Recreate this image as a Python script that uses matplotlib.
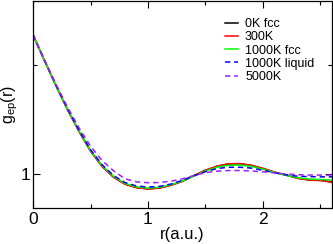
import matplotlib
matplotlib.use("Agg")
import matplotlib.pyplot as plt
from matplotlib.ticker import MultipleLocator, FixedLocator

plt.rcParams['font.family'] = ['Liberation Sans', 'DejaVu Sans']
plt.rcParams['mathtext.fontset'] = 'custom'
plt.rcParams['mathtext.rm'] = 'Liberation Sans'

r = [0.0, 0.1, 0.2, 0.3, 0.4, 0.5, 0.6, 0.7, 0.8, 0.9, 1.0, 1.1, 1.2, 1.3,
     1.4, 1.5, 1.6, 1.7, 1.8, 1.9, 2.0, 2.1, 2.2, 2.3, 2.4, 2.5, 2.6]

g_0K_fcc = [1.638, 1.520, 1.405, 1.296, 1.196, 1.106, 1.036, 0.986, 0.954, 0.938,
            0.932, 0.936, 0.949, 0.967, 0.992, 1.017, 1.035, 1.046, 1.047, 1.039,
            1.025, 1.008, 0.995, 0.981, 0.973, 0.971, 0.964]
g_300K = [1.638, 1.520, 1.405, 1.295, 1.195, 1.105, 1.035, 0.985, 0.953, 0.937,
          0.931, 0.935, 0.948, 0.966, 0.993, 1.018, 1.036, 1.047, 1.048, 1.040,
          1.026, 1.009, 0.995, 0.980, 0.972, 0.970, 0.962]
g_1000K_fcc = [1.638, 1.520, 1.406, 1.297, 1.198, 1.108, 1.039, 0.989, 0.957, 0.941,
               0.935, 0.939, 0.951, 0.968, 0.991, 1.014, 1.031, 1.040, 1.041, 1.035,
               1.022, 1.007, 0.994, 0.983, 0.977, 0.975, 0.972]
g_1000K_liquid = [1.640, 1.522, 1.408, 1.300, 1.201, 1.112, 1.043, 0.993, 0.961, 0.945,
                  0.940, 0.943, 0.954, 0.971, 0.992, 1.011, 1.025, 1.031, 1.031, 1.027,
                  1.017, 1.006, 0.996, 0.990, 0.988, 0.987, 0.987]
g_5000K = [1.638, 1.523, 1.412, 1.307, 1.212, 1.128, 1.062, 1.015, 0.978, 0.964,
           0.960, 0.961, 0.967, 0.978, 0.993, 1.006, 1.013, 1.016, 1.016, 1.014,
           1.010, 1.005, 1.000, 0.997, 0.995, 0.995, 0.995]

labels = ["0K fcc", "300K", "1000K fcc", "1000K liquid", "5000K"]

fig = plt.figure(figsize=(3.33, 2.44), dpi=100)
ax = fig.add_axes([33/333, 36/244, 299/333, 207/244])

lw = 1.1
ax.plot(r, g_0K_fcc, color="black", lw=lw, label=labels[0])
ax.plot(r, g_300K, color="red", lw=lw, label=labels[1])
ax.plot(r, g_1000K_fcc, color="#00ff00", lw=lw, label=labels[2])
ax.plot(r, g_1000K_liquid, color="blue", lw=lw, ls=(0, (3.5, 2.5)), label=labels[3])
ax.plot(r, g_5000K, color="#a020f0", lw=lw, ls=(0, (3.5, 2.5)), label=labels[4])

ax.set_xlim(0, 2.6)
ax.set_ylim(0.844, 1.794)

ax.xaxis.set_major_locator(MultipleLocator(1))
ax.xaxis.set_minor_locator(MultipleLocator(0.5))
ax.yaxis.set_major_locator(FixedLocator([1]))
ax.yaxis.set_minor_locator(FixedLocator([1.5]))
ax.tick_params(which='both', direction='in', top=True, right=True, width=0.8)
ax.tick_params(which='major', length=5, labelsize=12.5, pad=3)
ax.tick_params(axis='y', which='major', pad=2)
ax.tick_params(which='minor', length=3)
for s in ax.spines.values():
    s.set_linewidth(0.9)

ax.set_xlabel("r(a.u.)", fontsize=12)
ax.xaxis.set_label_coords(0.5, -0.13)
ax.xaxis.label.set_va('center')
ax.set_ylabel(r"g$_{\mathregular{ep}}$(r)", fontsize=11.5)
ax.yaxis.set_label_coords(-0.077, 0.5)
ax.yaxis.label.set_va('center')

leg = ax.legend(loc="upper right", bbox_to_anchor=(0.97, 0.96), frameon=False,
                fontsize=9, handlelength=1.0, handletextpad=0.6,
                labelspacing=0.1, borderpad=0.2)

fig.savefig("out.png", dpi=100)
